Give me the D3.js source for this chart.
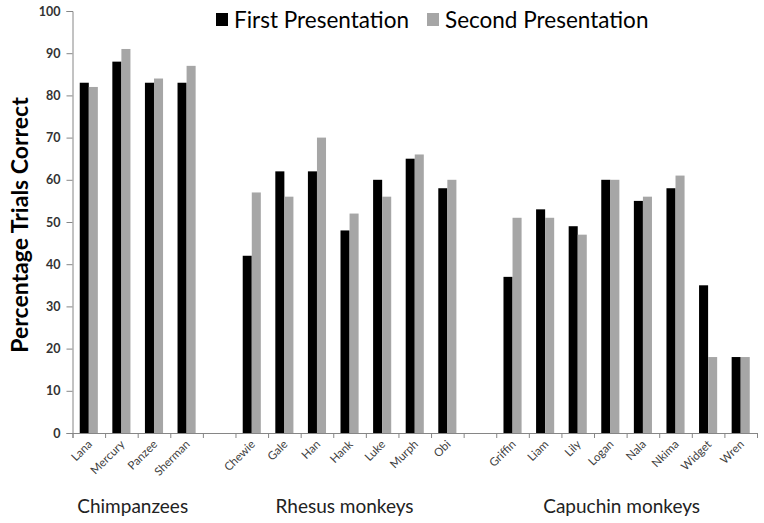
<!DOCTYPE html>
<html>
<head>
<meta charset="utf-8">
<script src="https://cdn.jsdelivr.net/npm/d3@7.9.0/dist/d3.min.js"></script>
<style>
  body { margin: 0; background: #fff; }
  svg { display: block; font-family: Lato, "Open Sans", sans-serif; }
</style>
</head>
<body>
<svg id="chart" width="764" height="523"></svg>
<script>
// data
const chimps = ['Lana', 'Mercury', 'Panzee', 'Sherman'];
const rhesus = ['Chewie', 'Gale', 'Han', 'Hank', 'Luke', 'Murph', 'Obi'];
const capuchins = ['Griffin', 'Liam', 'Lily', 'Logan', 'Nala', 'Nkima', 'Widget', 'Wren'];
const groupNames = ['Chimpanzees', 'Rhesus monkeys', 'Capuchin monkeys'];
const seriesNames = ['First Presentation', 'Second Presentation'];
const firstPres = [83, 88, 83, 83, 42, 62, 62, 48, 60, 65, 58, 37, 53, 49, 60, 55, 58, 35, 18];
const secondPres = [82, 91, 84, 87, 57, 56, 70, 52, 56, 66, 60, 51, 51, 47, 60, 56, 61, 18, 18];
const yTicks = [0, 10, 20, 30, 40, 50, 60, 70, 80, 90, 100];

const colors = ['#000000', '#a6a6a6'];
const svg = d3.select('#chart');

// slots with an empty one between groups
let slots = [...chimps, '_gap1', ...rhesus, '_gap2', ...capuchins];
let animals = [...chimps, ...rhesus, ...capuchins];
let rows = animals.map((name, i) => ({ name, vals: [firstPres[i], secondPres[i]] }));

let x = d3.scaleBand().domain(slots).range([72.5, 757]).padding(0);
let x1 = d3.scaleBand().domain(seriesNames).range([0, x.bandwidth()]).paddingInner(0).paddingOuter(0.8);
let y = d3.scaleLinear().domain([0, 100]).range([433, 11]);
let idx = d3.scaleLinear().domain([0, slots.length]).range(x.range());

// bars
let g = svg.append('g');
rows.forEach(r => {
  r.vals.forEach((v, k) => {
    g.append('rect')
      .attr('x', x(r.name) + x1(seriesNames[k]))
      .attr('y', y(v))
      .attr('width', x1.bandwidth())
      .attr('height', y(0) - y(v))
      .attr('fill', colors[k]);
  });
});

// y axis
let yAxis = svg.append('g')
  .attr('transform', `translate(${x.range()[0]},0)`)
  .call(d3.axisLeft(y).tickValues(yTicks).tickSize(6).tickPadding(6));
yAxis.selectAll('path, line').attr('stroke', '#868686');
yAxis.selectAll('text')
  .attr('font-size', 12.5).attr('font-weight', 'bold')
  .attr('fill', '#333').attr('font-family', 'Lato, sans-serif');

// x axis: ticks at slot boundaries
let xAxis = svg.append('g')
  .attr('transform', `translate(0,${y(0)})`)
  .call(d3.axisBottom(idx).tickValues(d3.range(slots.length + 1)).tickSize(5).tickFormat(''));
xAxis.selectAll('path, line').attr('stroke', '#868686');

// rotated animal names
svg.append('g').selectAll('text')
  .data(animals)
  .join('text')
  .attr('transform', d => `translate(${x(d) + x.bandwidth() / 2 + 4},${y(0) + 12}) rotate(-45)`)
  .attr('text-anchor', 'end')
  .attr('font-size', 11.5)
  .attr('fill', '#404040')
  .text(d => d);

// group labels
let groups = [chimps, rhesus, capuchins];
groups.forEach((grp, i) => {
  let x0 = x(grp[0]), x2 = x(grp[grp.length - 1]) + x.bandwidth();
  svg.append('text')
    .attr('x', (x0 + x2) / 2 - 5)
    .attr('y', 513)
    .attr('text-anchor', 'middle')
    .attr('font-size', 19)
    .attr('fill', '#222')
    .text(groupNames[i]);
});

// y label
svg.append('text')
  .attr('transform', 'translate(28,225) rotate(-90)')
  .attr('text-anchor', 'middle')
  .attr('font-size', 23)
  .attr('font-weight', 'bold')
  .attr('fill', '#000')
  .text('Percentage Trials Correct');

// legend
let legendX = [216, 427];
seriesNames.forEach((s, k) => {
  svg.append('rect')
    .attr('x', legendX[k]).attr('y', 13)
    .attr('width', 12).attr('height', 13)
    .attr('fill', colors[k]);
  svg.append('text')
    .attr('x', legendX[k] + 18).attr('y', 28)
    .attr('font-size', 22.5)
    .attr('fill', '#000')
    .text(s);
});
</script>
</body>
</html>
